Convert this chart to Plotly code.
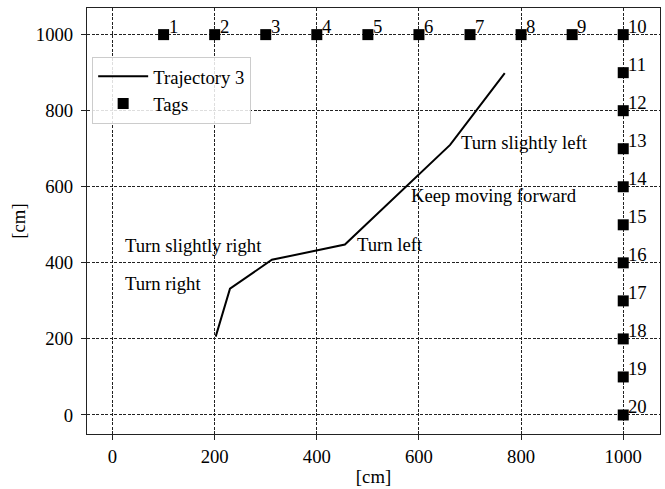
import plotly.graph_objects as go

# Trajectory data
traj_x = [202, 230, 312, 455, 661, 768]
traj_y = [206, 332, 408, 448, 710, 899]

# Tag positions and labels
tag_x = [100, 200, 300, 400, 500, 600, 700, 800, 900, 1000,
         1000, 1000, 1000, 1000, 1000, 1000, 1000, 1000, 1000, 1000]
tag_y = [1000, 1000, 1000, 1000, 1000, 1000, 1000, 1000, 1000, 1000,
         900, 800, 700, 600, 500, 400, 300, 200, 100, 0]
tag_labels = [str(i) for i in range(1, 21)]

# Instruction annotations
note_text = ["Turn slightly right", "Turn right", "Turn left",
             "Keep moving forward", "Turn slightly left"]
note_x = [20, 20, 474, 581, 679]
note_y = [445, 347, 447, 578, 716]

tick_vals = [0, 200, 400, 600, 800, 1000]

FONT = "Liberation Serif, Times New Roman, serif"
FS = 18.7

fig = go.Figure()
fig.add_trace(go.Scatter(x=traj_x, y=traj_y, mode="lines", name="Trajectory 3",
                         line=dict(color="black", width=2)))
fig.add_trace(go.Scatter(x=tag_x, y=tag_y, mode="markers", name="Tags",
                         marker=dict(symbol="square", size=11, color="black")))

annotations = []
for x, y, t in zip(tag_x, tag_y, tag_labels):
    annotations.append(dict(x=x, y=y, text=t, xref="x", yref="y", showarrow=False,
                            xanchor="left", yanchor="middle", xshift=3, yshift=8,
                            font=dict(family=FONT, size=FS, color="black")))
for x, y, t in zip(note_x, note_y, note_text):
    annotations.append(dict(x=x, y=y, text=t, xref="x", yref="y", showarrow=False,
                            xanchor="left", yanchor="middle",
                            font=dict(family=FONT, size=FS, color="black")))

axis_common = dict(
    showline=True, linecolor="#222", linewidth=1.2, mirror=True,
    ticks="outside", ticklen=5, tickwidth=1, tickcolor="#222",
    showgrid=True, gridcolor="#222", gridwidth=0.8, griddash="3px,1.5px",
    zeroline=False, tickvals=tick_vals, automargin=False,
    tickfont=dict(family=FONT, size=FS, color="black"),
)

fig.update_xaxes(range=[-50, 1072], title=dict(text="[cm]", standoff=4,
                 font=dict(family=FONT, size=FS, color="black")), **axis_common)
fig.update_yaxes(range=[-50, 1070], title=dict(text="[cm]", standoff=5,
                 font=dict(family=FONT, size=FS, color="black")),
                 ticklabelstandoff=4, **axis_common)

fig.update_layout(
    width=665, height=489,
    margin=dict(l=87, r=5, t=8, b=55),
    paper_bgcolor="white", plot_bgcolor="white",
    font=dict(family=FONT, size=FS, color="black"),
    annotations=annotations,
    legend=dict(x=0.009, y=0.886, xanchor="left", yanchor="top",
                bgcolor="rgba(255,255,255,0.85)", bordercolor="#cccccc", borderwidth=1,
                font=dict(family=FONT, size=FS, color="black"),
                itemwidth=50, tracegroupgap=0),
    showlegend=True,
)

fig.write_html("out.html", config={"displayModeBar": False},
               post_script="document.body.style.margin='0';document.body.style.padding='0';")
